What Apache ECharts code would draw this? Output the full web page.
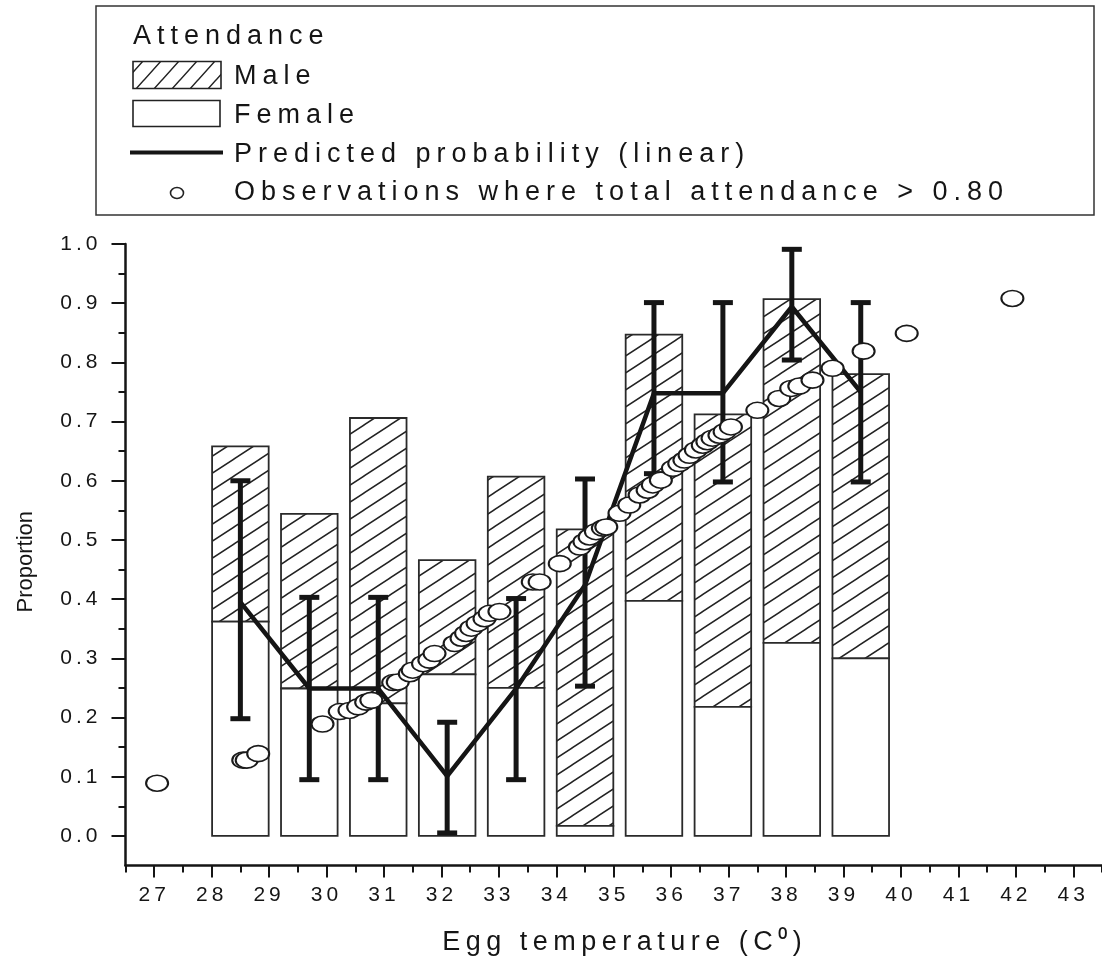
<!DOCTYPE html>
<html>
<head>
<meta charset="utf-8">
<script src="https://cdn.jsdelivr.net/npm/echarts@6/dist/echarts.min.js"></script>
<style>
html,body{margin:0;padding:0;background:#fff;}
#chart{width:1102px;height:964px;}
</style>
</head>
<body>
<div id="chart"></div>
<script>
// ---------------- DATA ----------------
const xTickVals = [27,28,29,30,31,32,33,34,35,36,37,38,39,40,41,42,43];
const xMinorVals = [26.5,27.5,28.5,29.5,30.5,31.5,32.5,33.5,34.5,35.5,36.5,37.5,38.5,39.5,40.5,41.5,42.5,43.5];
const yTickVals = [0.0,0.1,0.2,0.3,0.4,0.5,0.6,0.7,0.8,0.9,1.0];
const yMinorVals = [0.05,0.15,0.25,0.35,0.45,0.55,0.65,0.75,0.85,0.95];

const binTemp = [28.5, 29.7, 30.9, 32.1, 33.3, 34.5, 35.7, 36.9, 38.1, 39.3];
const femaleAtt = [0.362, 0.249, 0.224, 0.273, 0.250, 0.017, 0.397, 0.218, 0.326, 0.300];
const maleAtt   = [0.296, 0.295, 0.482, 0.193, 0.357, 0.501, 0.450, 0.494, 0.581, 0.480];

const predProb = [0.395, 0.249, 0.249, 0.101, 0.249, 0.424, 0.748, 0.748, 0.894, 0.750];
const predLow  = [0.198, 0.095, 0.095, 0.005, 0.095, 0.253, 0.612, 0.598, 0.804, 0.598];
const predHigh = [0.600, 0.403, 0.403, 0.192, 0.401, 0.603, 0.901, 0.901, 0.991, 0.901];

const obsTemp = [27.05,28.55,28.61,28.81,29.93,30.23,30.40,30.55,30.69,30.78,31.16,31.24,31.45,31.50,31.68,31.79,31.88,
  32.23,32.35,32.43,32.52,32.63,32.75,32.84,33.01,33.59,33.71,34.06,34.41,34.49,34.58,34.69,34.81,34.87,
  35.10,35.27,35.45,35.59,35.68,35.82,36.03,36.14,36.23,36.32,36.43,36.55,36.63,36.72,36.84,36.93,37.04,
  37.50,37.88,38.09,38.23,38.46,38.81,39.35,40.10,41.94];
const obsProp = [0.089,0.128,0.128,0.139,0.189,0.210,0.212,0.218,0.226,0.229,0.259,0.260,0.274,0.280,0.291,0.297,0.308,
  0.325,0.334,0.342,0.351,0.359,0.367,0.376,0.379,0.429,0.429,0.460,0.488,0.497,0.505,0.514,0.520,0.522,
  0.545,0.559,0.576,0.584,0.593,0.601,0.621,0.629,0.635,0.643,0.652,0.660,0.666,0.672,0.677,0.683,0.691,
  0.719,0.739,0.756,0.760,0.770,0.790,0.819,0.849,0.908];

const legendTitle = 'Attendance';
const legendLabels = ['Male', 'Female', 'Predicted probability (linear)', 'Observations where total attendance > 0.80'];
const xName = 'Egg temperature (C\u2070)';
const yName = 'Proportion';

// ---------------- letter spacing helper (font token "lsN") ----------------
(function(){
  const P = CanvasRenderingContext2D.prototype;
  if (!('letterSpacing' in P)) return;
  const f = P.fillText, s = P.strokeText;
  function ls(ctx){ const m = /\bls(\d+(?:_\d+)?)\b/.exec(ctx.font); return m ? m[1].replace('_','.') + 'px' : null; }
  function wrap(orig){
    return function(t,x,y,mw){
      const v = ls(this);
      let o;
      if (v) { o = this.letterSpacing; this.letterSpacing = v; }
      const r = (mw === undefined) ? orig.call(this,t,x,y) : orig.call(this,t,x,y,mw);
      if (v) this.letterSpacing = o;
      return r;
    };
  }
  P.fillText = wrap(f);
  P.strokeText = wrap(s);
})();

// ---------------- hatch patterns ----------------
function makeHatch(w, h, lw){
  const c = document.createElement('canvas');
  c.width = w; c.height = h;
  const g = c.getContext('2d');
  g.fillStyle = '#fff'; g.fillRect(0,0,w,h);
  g.strokeStyle = '#222'; g.lineWidth = lw;
  g.beginPath();
  for (const k of [-1,0,1]) {
    const x1 = -3, x2 = w + 3;
    g.moveTo(x1, h*(1+k) - (h/w)*x1);
    g.lineTo(x2, h*(1+k) - (h/w)*x2);
  }
  g.stroke();
  return c;
}
const hatchBar = { image: makeHatch(26, 17, 1.5), repeat: 'repeat' };
const hatchLegend = { image: makeHatch(18, 20, 1.5), repeat: 'repeat' };

// ---------------- build series data ----------------
const barData = binTemp.map((t,i) => [t, femaleAtt[i], maleAtt[i]]);
const errData = binTemp.map((t,i) => [t, predLow[i], predHigh[i]]);
const lineData = binTemp.map((t,i) => [t, predProb[i]]);
const obsData = obsTemp.map((t,i) => [t, obsProp[i]]);

const INK = '#151515';
const FONT = '"Liberation Sans", Arial, sans-serif';
const tickFont = '"Liberation Sans", ls4';
const legFont = '"Liberation Sans", ls6';
const xNameFont = '"Liberation Sans", ls5_5';

const chart = echarts.init(document.getElementById('chart'), null, {renderer:'canvas'});

const legendY = [76.5, 115.5, 154.5, 193];
const option = {
  backgroundColor: '#fff',
  animation: false,
  grid: { left: 125.5, right: 0, top: 244, bottom: 98.5, containLabel: false },
  xAxis: [{
    type: 'value', min: 26.5, max: 43.5,
    name: xName, nameLocation: 'middle', nameGap: 64,
    nameTextStyle: { fontFamily: xNameFont, fontSize: 27, color: INK, padding: [0,0,0,22] },
    axisLine: { onZero: false, lineStyle: { color: INK, width: 2.5 } },
    axisTick: { show: true, inside: false, length: 12, lineStyle: { color: INK, width: 2 }, customValues: xTickVals },
    axisLabel: { fontFamily: tickFont, fontSize: 21, color: INK, margin: 19, customValues: xTickVals, hideOverlap: false,
                 formatter: v => String(Math.round(v)) },
    splitLine: { show: false }
  }, {
    type: 'value', min: 26.5, max: 43.5, position: 'bottom',
    axisLine: { show: false, onZero: false },
    axisTick: { show: true, length: 7, lineStyle: { color: INK, width: 2 }, customValues: xMinorVals },
    axisLabel: { show: false },
    splitLine: { show: false }
  }],
  yAxis: [{
    type: 'value', min: -0.05, max: 1.0,
    name: yName, nameLocation: 'middle', nameGap: 89, nameRotate: 90,
    nameTextStyle: { fontFamily: FONT, fontSize: 22, color: INK, padding: [0,14,0,0] },
    axisLine: { show: true, onZero: false, lineStyle: { color: INK, width: 2.5 } },
    axisTick: { show: true, length: 14, lineStyle: { color: INK, width: 2 }, customValues: yTickVals },
    axisLabel: { fontFamily: tickFont, fontSize: 21, color: INK, margin: 24, customValues: yTickVals,
                 formatter: v => v.toFixed(1) },
    splitLine: { show: false }
  }, {
    type: 'value', min: -0.05, max: 1.0, position: 'left',
    axisLine: { show: false, onZero: false },
    axisTick: { show: true, length: 7, lineStyle: { color: INK, width: 2 }, customValues: yMinorVals },
    axisLabel: { show: false },
    splitLine: { show: false }
  }],
  series: [
    {
      name: 'Attendance', type: 'custom', z: 2,
      data: barData,
      encode: { x: 0, y: [1, 2] },
      renderItem: function(params, api){
        const t = api.value(0), f = api.value(1), m = api.value(2);
        const w = api.size([0.985, 0])[0];
        const p0 = api.coord([t, 0]);
        const p1 = api.coord([t, f]);
        const p2 = api.coord([t, f + m]);
        const x0 = p0[0] - w/2;
        return {
          type: 'group',
          children: [
            { type: 'rect', shape: { x: x0, y: p2[1], width: w, height: p1[1]-p2[1] },
              style: { fill: hatchBar, stroke: '#2a2a2a', lineWidth: 1.8 } },
            { type: 'rect', shape: { x: x0, y: p1[1], width: w, height: p0[1]-p1[1] },
              style: { fill: '#fff', stroke: '#2a2a2a', lineWidth: 1.8 } }
          ]
        };
      }
    },
    {
      name: 'Predicted probability (linear)', type: 'line', z: 4,
      data: lineData, showSymbol: false, symbol: 'none',
      lineStyle: { color: INK, width: 4.5 }
    },
    {
      name: 'CI', type: 'custom', z: 5,
      data: errData,
      encode: { x: 0, y: [1, 2] },
      renderItem: function(params, api){
        const t = api.value(0);
        const lo = api.coord([t, api.value(1)]);
        const hi = api.coord([t, api.value(2)]);
        const cw = 10;
        const st = { stroke: INK, lineWidth: 5 };
        return {
          type: 'group',
          children: [
            { type: 'line', shape: { x1: lo[0], y1: lo[1], x2: hi[0], y2: hi[1] }, style: st },
            { type: 'line', shape: { x1: lo[0]-cw, y1: lo[1], x2: lo[0]+cw, y2: lo[1] }, style: st },
            { type: 'line', shape: { x1: hi[0]-cw, y1: hi[1], x2: hi[0]+cw, y2: hi[1] }, style: st }
          ]
        };
      }
    },
    {
      name: 'Observations', type: 'scatter', z: 6,
      data: obsData, symbol: 'circle', symbolSize: [22, 16],
      itemStyle: { color: '#fff', borderColor: '#1a1a1a', borderWidth: 1.8, opacity: 1 }
    }
  ],
  graphic: [
    { type: 'rect', z: 10, shape: { x: 96, y: 6, width: 998, height: 209 },
      style: { fill: '#fff', stroke: '#333', lineWidth: 1.5 } },
    { type: 'text', z: 11, x: 133, y: 36.5,
      style: { text: legendTitle, font: '27px ' + legFont, fill: INK, textAlign: 'left', textVerticalAlign: 'middle' } },
    { type: 'rect', z: 11, shape: { x: 133, y: 61.5, width: 88, height: 27 },
      style: { fill: hatchLegend, stroke: '#222', lineWidth: 1.6 } },
    { type: 'rect', z: 11, shape: { x: 133, y: 100.5, width: 87, height: 26 },
      style: { fill: '#fff', stroke: '#222', lineWidth: 1.6 } },
    { type: 'line', z: 11, shape: { x1: 130, y1: 152.5, x2: 223, y2: 152.5 },
      style: { stroke: INK, lineWidth: 4 } },
    { type: 'ellipse', z: 11, shape: { cx: 177, cy: 193, rx: 6.5, ry: 5.5 },
      style: { fill: '#fff', stroke: '#222', lineWidth: 1.6 } }
  ].concat(legendLabels.map((lab, i) => ({
    type: 'text', z: 11, x: 234, y: legendY[i],
    style: { text: lab, font: '27px ' + legFont, fill: INK, textAlign: 'left', textVerticalAlign: 'middle' }
  })))
};
chart.setOption(option);
</script>
</body>
</html>
